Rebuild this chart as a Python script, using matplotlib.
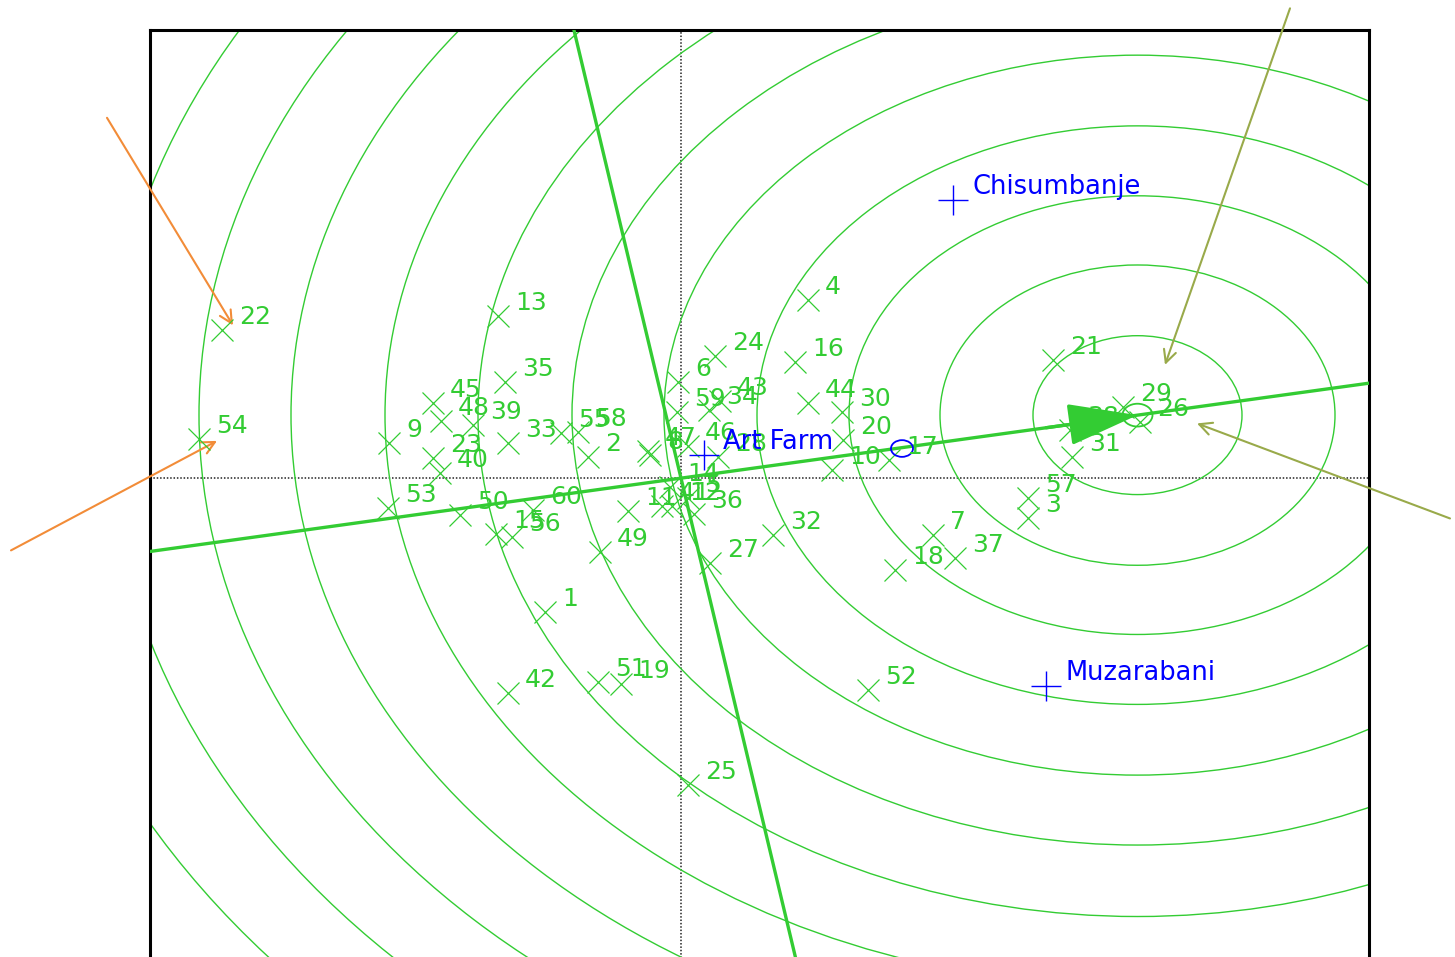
import matplotlib
matplotlib.use("Agg")
import matplotlib.pyplot as plt
from matplotlib.patches import Circle

plt.rcParams['font.family'] = ['DejaVu Sans']

# ---------------- data ----------------
genotypes = [str(i) for i in range(1, 61)]
gx = [-1.36, -0.93, 3.47, 1.27, 0.07, -0.03, 2.52, -0.31, -2.92, 1.51,
      -0.53, -0.09, -1.83, -0.11, -1.85, 1.14, 2.08, 2.14, -0.60, 1.62,
      3.72, -4.59, -2.48, 0.34, 0.07, 4.59, 0.29, 0.37, 4.42, 1.61,
      3.91, 0.92, -1.73, 0.28, -1.76, 0.13, 2.74, 3.89, -2.08, -2.41,
      -0.19, -1.73, 0.39, 1.27, -2.48, 0.07, -0.33, -2.40, -0.81, -2.21,
      -0.83, 1.87, -2.93, -4.82, -1.20, -1.69, 3.47, -1.03, -0.04, -1.48]
gy = [-1.76, 0.28, -0.53, 2.34, -0.26, 1.26, -0.75, 0.30, 0.46, 0.11,
      -0.43, -0.37, 2.13, -0.11, -0.74, 1.53, 0.24, -1.21, -2.71, 0.50,
      1.55, 1.95, 0.26, 1.61, -4.04, 0.74, -1.11, 0.28, 0.93, 0.87,
      0.28, -0.75, 0.46, 0.89, 1.26, -0.47, -1.05, 0.63, 0.70, 0.07,
      -0.36, -2.82, 1.01, 0.99, 0.99, 0.42, 0.36, 0.75, -0.97, -0.49,
      -2.68, -2.79, -0.39, 0.51, 0.59, -0.78, -0.26, 0.61, 0.87, -0.42]

environments = ["Art Farm", "Chisumbanje", "Muzarabani"]
ex = [0.23, 2.72, 3.65]
ey = [0.30, 3.66, -2.74]

ideal = (4.565, 0.829)            # ideal genotype (centre of circles)
avg_env = (2.21, 0.39)            # average environment marker
circle_radii = [1.045, 1.975, 2.885, 3.805, 4.735, 5.655, 6.595, 7.525,
                8.465, 9.385, 10.31, 11.24]

# annotation arrows (tail, head) in data units
orange_arrows = [((-5.74, 4.74), (-4.48, 2.01)), ((-6.70, -0.95), (-4.64, 0.49))]
olive_arrows = [((6.09, 6.18), (4.84, 1.49)), ((7.69, -0.53), (5.16, 0.72))]

GREEN = '#33CC33'
BLUE = '#0000FF'
ORANGE = '#F28C38'
OLIVE = '#99AA4A'

# ---------------- figure ----------------
W, H = 1455, 957
fig = plt.figure(figsize=(W / 100, H / 100), dpi=100)
ax = fig.add_axes([150 / W, (H - 1005) / H, 1219 / W, 975 / H])
ax.set_xlim(-5.31, 6.88)
ax.set_ylim(-6.93, 5.895)
ax.set_xticks([])
ax.set_yticks([])
for s in ax.spines.values():
    s.set_linewidth(2.2)
    s.set_color('black')

# dotted axes through origin
ax.axhline(0, color='#222222', lw=1.1, ls=(0, (1, 1.2)), zorder=1)
ax.axvline(0, color='#222222', lw=1.1, ls=(0, (1, 1.2)), zorder=1)

# concentric circles around ideal genotype
for r in circle_radii:
    ax.add_patch(Circle(ideal, r, fill=False, ec=GREEN, lw=1.0, zorder=2))

# average environment axis and its perpendicular
slope = ideal[1] / ideal[0]
ax.axline((0, 0), slope=slope, color=GREEN, lw=2.4, zorder=3)
ax.axline((0, 0), slope=-1 / slope, color=GREEN, lw=2.4, zorder=3)

# arrow to ideal
ax.annotate('', xy=ideal, xytext=(ideal[0] * 0.8, ideal[1] * 0.8),
            arrowprops=dict(arrowstyle='-|>,head_length=2.2,head_width=0.66',
                            color=GREEN, lw=2.4, shrinkA=0, shrinkB=0,
                            mutation_scale=20), zorder=5)
ax.add_patch(Circle(ideal, 0.15, fill=False, ec=GREEN, lw=1.3, zorder=5))
ax.add_patch(Circle(avg_env, 0.11, fill=False, ec=BLUE, lw=1.3, zorder=5))

# genotypes
ax.plot(gx, gy, ls='none', marker='x', ms=16, mew=0.9, color=GREEN, zorder=4)
for lab, x, y in zip(genotypes, gx, gy):
    ax.annotate(lab, (x, y), xytext=(17, 13), textcoords='offset pixels',
                ha='left', va='center', fontsize=18, color=GREEN, zorder=6)

# environments
ax.plot(ex, ey, ls='none', marker='+', ms=22, mew=1.0, color=BLUE, zorder=6)
for lab, x, y in zip(environments, ex, ey):
    ax.annotate(lab, (x, y), xytext=(19, 13), textcoords='offset pixels',
                ha='left', va='center', fontsize=18.5, color=BLUE, zorder=7)

# pointer arrows
for (t, h) in orange_arrows:
    ax.annotate('', xy=h, xytext=t, annotation_clip=False,
                arrowprops=dict(arrowstyle='->,head_length=0.9,head_width=0.45',
                                color=ORANGE, lw=1.5, shrinkA=0, shrinkB=0))
for (t, h) in olive_arrows:
    ax.annotate('', xy=h, xytext=t, annotation_clip=False,
                arrowprops=dict(arrowstyle='->,head_length=0.9,head_width=0.45',
                                color=OLIVE, lw=1.5, shrinkA=0, shrinkB=0))

fig.savefig('out.png', dpi=100)
